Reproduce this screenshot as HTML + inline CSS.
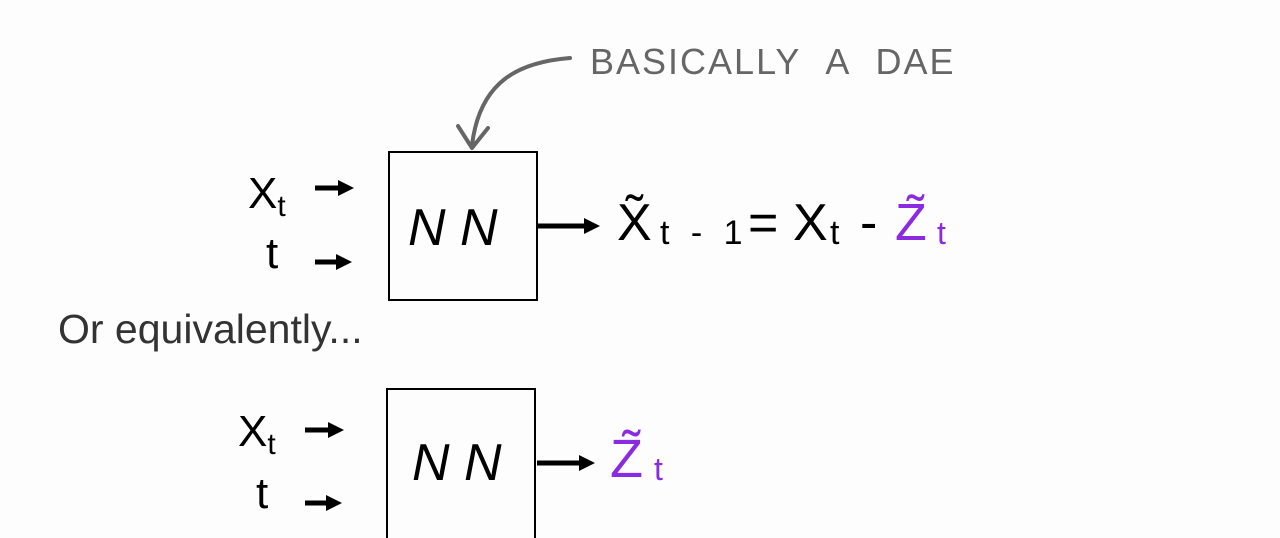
<!DOCTYPE html>
<html><head><meta charset="utf-8"><style>
html,body{margin:0;padding:0;background:#fdfdfd;}
svg{display:block}
text{font-family:"Liberation Sans",sans-serif;}
</style></head><body>
<svg width="1280" height="538" viewBox="0 0 1280 538">
<defs>
<marker id="ah" markerWidth="18" markerHeight="18" refX="4" refY="8" orient="auto" markerUnits="userSpaceOnUse"><path d="M0,0 L16,8 L0,16 Z" fill="#000"/></marker>
</defs>
<text x="590" y="74" font-size="36" fill="#666" letter-spacing="2">BASICALLY&#160;&#160;A&#160;&#160;DAE</text>
<path d="M570,58 C520,62 480,80 472,145" fill="none" stroke="#666" stroke-width="4" stroke-linecap="round"/>
<path d="M458,126 L472,148 L488,128" fill="none" stroke="#666" stroke-width="4" stroke-linecap="round" stroke-linejoin="round"/>

<g>
<rect x="389" y="152" width="148" height="148" fill="none" stroke="#000" stroke-width="2"/>
<text x="408" y="245" font-size="52" font-style="italic">N N</text>
</g>
<text x="248" y="208" font-size="44">X<tspan font-size="30" dy="8">t</tspan></text>
<line x1="315" y1="188" x2="342" y2="188" stroke="#000" stroke-width="5" marker-end="url(#ah)"/>
<text x="266" y="268" font-size="44">t</text>
<line x1="315" y1="262" x2="340" y2="262" stroke="#000" stroke-width="5" marker-end="url(#ah)"/>
<line x1="538" y1="226" x2="588" y2="226" stroke="#000" stroke-width="5" marker-end="url(#ah)"/>
<g>
<text x="617" y="240" font-size="52">X̃</text>
<text x="660" y="244" font-size="34" letter-spacing="6">t - 1</text>
<text x="748" y="240" font-size="52">=</text>
<text x="793" y="240" font-size="52">X</text>
<text x="830" y="244" font-size="34">t</text>
<text x="860" y="240" font-size="52">-</text>
<text x="895" y="240" font-size="52" fill="#8a2be2">Z̃</text>
<text x="937" y="244" font-size="32" fill="#8a2be2">t</text>
</g>

<text x="58" y="343" font-size="41" fill="#333">Or equivalently...</text>

<g>
<rect x="387" y="389" width="148" height="160" fill="none" stroke="#000" stroke-width="2"/>
<text x="412" y="480" font-size="52" font-style="italic">N N</text>
</g>
<text x="238" y="446" font-size="44">X<tspan font-size="30" dy="8">t</tspan></text>
<line x1="305" y1="430" x2="332" y2="430" stroke="#000" stroke-width="5" marker-end="url(#ah)"/>
<text x="256" y="508" font-size="44">t</text>
<line x1="305" y1="503" x2="330" y2="503" stroke="#000" stroke-width="5" marker-end="url(#ah)"/>
<line x1="537" y1="463" x2="583" y2="463" stroke="#000" stroke-width="5" marker-end="url(#ah)"/>
<g>
<text x="610" y="477" font-size="54" fill="#8a2be2">Z̃</text>
<text x="654" y="480" font-size="32" fill="#8a2be2">t</text>
</g>
</svg>
</body></html>
